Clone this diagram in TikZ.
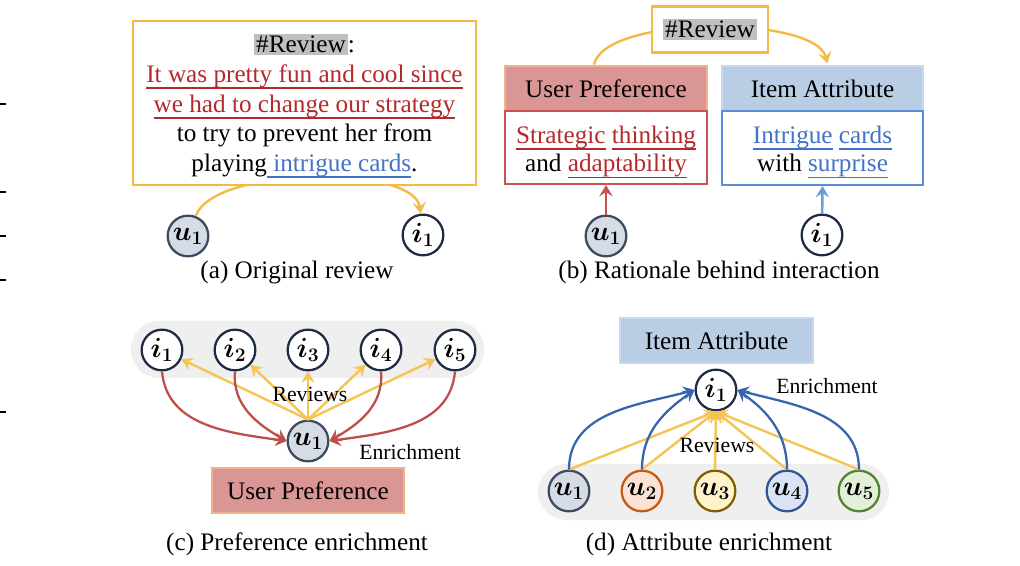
\documentclass[tikz,border=0pt]{standalone}
\usepackage{fontspec}
\setmainfont{Liberation Serif}
\usepackage{bm}
\usetikzlibrary{arrows.meta,calc}
\newsavebox\myulbox
\newcommand\myul[1]{\sbox\myulbox{#1}\rlap{\rule[-4.9pt]{\wd\myulbox}{1.35pt}}\usebox\myulbox}
\definecolor{gold}{HTML}{F4BA44}
\definecolor{goldl}{HTML}{F5C452}
\definecolor{redtxt}{HTML}{B4292C}
\definecolor{bluetxt}{HTML}{4472C4}
\definecolor{hlgray}{HTML}{BFBFBF}
\definecolor{prefill}{HTML}{D99694}
\definecolor{prehead}{HTML}{F2B08C}
\definecolor{preborder}{HTML}{C8534F}
\definecolor{attfill}{HTML}{B9CDE5}
\definecolor{atthead}{HTML}{C6D9F0}
\definecolor{attborder}{HTML}{5B8ED6}
\definecolor{attarrow}{HTML}{6C9BD6}
\definecolor{enrred}{HTML}{BD4F4A}
\definecolor{enrblue}{HTML}{3665AE}
\definecolor{navy}{HTML}{1F2A44}
\definecolor{ufill}{HTML}{D6DCE5}
\definecolor{uborder}{HTML}{3E4A5E}
\definecolor{utwofill}{HTML}{FBE2D5}
\definecolor{utwoborder}{HTML}{C55A11}
\definecolor{uthreefill}{HTML}{FFF2CC}
\definecolor{uthreeborder}{HTML}{7F6000}
\definecolor{ufourfill}{HTML}{DAE3F3}
\definecolor{ufourborder}{HTML}{2F5597}
\definecolor{ufivefill}{HTML}{E2F0D9}
\definecolor{ufiveborder}{HTML}{548235}
\definecolor{band}{HTML}{EFEFEF}
\tikzset{
  mainfont/.style={font=\fontsize{18.9}{22.3}\selectfont},
  lblfont/.style={font=\fontsize{16.3}{18}\selectfont},
  circ/.style={circle, line width=1.7pt, minimum size=30.5pt, inner sep=0pt,
    font=\fontsize{22}{22}\selectfont},
  ucirc/.style={circ, draw=uborder, fill=ufill},
  icirc/.style={circ, draw=navy, fill=white},
  tipA/.style={-{Stealth[length=8.5pt,width=10pt,inset=3.2pt]}},
  yarr/.style={draw=goldl, line width=1.8pt, tipA},
  rarr/.style={draw=enrred, line width=1.7pt, tipA},
  barr/.style={draw=enrblue, line width=1.7pt, tipA},
  pbox/.style={rectangle, inner sep=0pt, mainfont},
}
\begin{document}
\begin{tikzpicture}[x=0.75pt,y=-0.75pt]
\fill[white] (0,0) rectangle (1020,566);
\useasboundingbox (0,0) rectangle (1020,566);
% left edge marks
\foreach \yy in {104,192,236,280,412}{\draw[line width=1.5pt] (0,\yy) -- (6,\yy);}

% ---------------- (a) ----------------
\node[ucirc] (u1a) at (188,236) {$\bm{u}_{\bm{1}}$};
\node[icirc] (i1a) at (423,235) {$\bm{i}_{\bm{1}}$};
\draw[draw=gold, line width=1.8pt, tipA] (u1a) .. controls (215,165) and (415,165) .. (i1a);
\node[pbox, draw=gold, line width=1.6pt, fill=white, minimum width=257.25pt, minimum height=123pt]
  (reva) at (304.5,103) {};
\node[pbox, align=center] (revatxt) at (304.5,106) {\setlength\fboxsep{1.5pt}\colorbox{hlgray}{\#Review}:\\
  \textcolor{redtxt}{\myul{It was pretty fun and cool since}}\\
  \textcolor{redtxt}{\myul{we had to change our strategy}}\\
  to try to prevent her from\\
  playing\textcolor{bluetxt}{\myul{ intrigue cards}}.};
\node[mainfont] (capa) at (297,272) {(a) Original review};

% ---------------- (b) ----------------
\node[pbox, fill=prefill, draw=prehead, line width=0.8pt, minimum width=151.5pt, minimum height=33.75pt]
  (uph) at (606,88.5) {User Preference};
\node[pbox, fill=white, draw=preborder, line width=1.5pt, minimum width=151.5pt, minimum height=54.75pt]
  (upb) at (606,147.5) {};
\node[pbox, align=center, font=\fontsize{18.9}{21.5}\selectfont] (upbtxt) at (606,152)
  {\textcolor{redtxt}{\myul{Strategic} \myul{thinking}}\\ and \textcolor{redtxt}{\myul{adaptability}}};
\node[pbox, fill=attfill, draw=atthead, line width=0.8pt, minimum width=150.75pt, minimum height=33.75pt]
  (iah) at (822.5,88.5) {Item Attribute};
\node[pbox, fill=white, draw=attborder, line width=1.5pt, minimum width=150.75pt, minimum height=55.5pt]
  (iab) at (822.5,148) {};
\node[pbox, align=center, font=\fontsize{18.9}{21.5}\selectfont] (iabtxt) at (822.5,152)
  {\textcolor{bluetxt}{\myul{Intrigue} \myul{cards}}\\ with \textcolor{bluetxt}{\myul{surprise}}};
\draw[draw=gold, line width=1.8pt, tipA] ($(uph.north)+(-12,-1)$) .. controls (605,15) and (815,15) .. ($(iah.north)+(5,-2)$);
\node[pbox, draw=gold, line width=1.6pt, fill=white, minimum width=87pt, minimum height=34.5pt]
  (revb) at (710,29.5) {\setlength\fboxsep{1.5pt}\colorbox{hlgray}{\#Review}};
\node[ucirc] (u1b) at (606,236) {$\bm{u}_{\bm{1}}$};
\node[icirc] (i1b) at (822,235) {$\bm{i}_{\bm{1}}$};
\draw[draw=preborder, line width=1.8pt, tipA] (u1b) -- (upb.south);
\draw[draw=attarrow, line width=1.8pt, tipA] (i1b) -- (iab.south);
\node[mainfont] (capb) at (719,272) {(b) Rationale behind interaction};

% ---------------- (c) ----------------
\fill[band, rounded corners=21pt] (131,321) rectangle (484,378);
\node[icirc] (i1c) at (162,350) {$\bm{i}_{\bm{1}}$};
\node[icirc] (i2c) at (235,350) {$\bm{i}_{\bm{2}}$};
\node[icirc] (i3c) at (308,350) {$\bm{i}_{\bm{3}}$};
\node[icirc] (i4c) at (381,350) {$\bm{i}_{\bm{4}}$};
\node[icirc] (i5c) at (455,350) {$\bm{i}_{\bm{5}}$};
\node[ucirc] (u1c) at (308,441) {$\bm{u}_{\bm{1}}$};
\foreach \n in {i1c,i2c,i3c,i4c,i5c}{\draw[yarr] (u1c.north) -- (\n);}
\draw[rarr] (i1c.south) to[out=-85,in=172] (u1c.west);
\draw[rarr] (i2c.south) to[out=-95,in=150] (u1c.west);
\draw[rarr] (i4c.south) to[out=-85,in=30] (u1c.east);
\draw[rarr] (i5c.south) to[out=-95,in=8] (u1c.east);
\node[lblfont] (revc) at (310,394) {Reviews};
\node[lblfont] (enrc) at (410,452) {Enrichment};
\node[pbox, fill=prefill, draw=prehead, line width=0.8pt, minimum width=144pt, minimum height=33.75pt]
  (upc) at (308,490.5) {User Preference};
\node[mainfont] (capc) at (297,544) {(c) Preference enrichment};

% ---------------- (d) ----------------
\node[pbox, fill=attfill, draw=atthead, line width=0.8pt, minimum width=144.75pt, minimum height=33.75pt]
  (iad) at (716.5,340.5) {Item Attribute};
\fill[band, rounded corners=21pt] (538,464) rectangle (889,520);
\node[icirc] (i1d) at (716,390) {$\bm{i}_{\bm{1}}$};
\node[ucirc] (u1d) at (569,491) {$\bm{u}_{\bm{1}}$};
\node[circ, draw=utwoborder, fill=utwofill] (u2d) at (642,491) {$\bm{u}_{\bm{2}}$};
\node[circ, draw=uthreeborder, fill=uthreefill] (u3d) at (715,491) {$\bm{u}_{\bm{3}}$};
\node[circ, draw=ufourborder, fill=ufourfill] (u4d) at (787,491) {$\bm{u}_{\bm{4}}$};
\node[circ, draw=ufiveborder, fill=ufivefill] (u5d) at (859,491) {$\bm{u}_{\bm{5}}$};
\foreach \n in {u1d,u2d,u3d,u4d,u5d}{\draw[yarr] (\n.north) -- (i1d.south);}
\draw[barr] (u1d.north) to[out=90,in=195] (i1d.west);
\draw[barr] (u2d.north) to[out=90,in=215] (i1d.west);
\draw[barr] (u4d.north) to[out=90,in=-35] (i1d.east);
\draw[barr] (u5d.north) to[out=90,in=-15] (i1d.east);
\node[lblfont] (revd) at (717,445) {Reviews};
\node[lblfont] (enrd) at (827,386) {Enrichment};
\node[mainfont] (capd) at (709,544) {(d) Attribute enrichment};
\end{tikzpicture}
\end{document}
